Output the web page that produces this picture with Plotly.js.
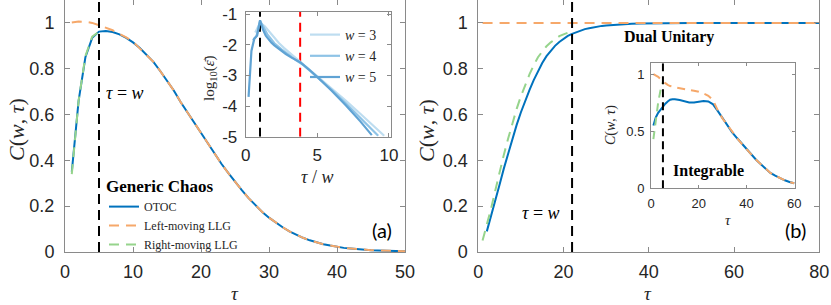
<!DOCTYPE html>
<html>
<head>
<meta charset="utf-8">
<script src="https://cdn.plot.ly/plotly-3.0.1.min.js"></script>
<style>html,body{margin:0;padding:0;background:#fff;}#chart{width:831px;height:305px;}</style>
</head>
<body>
<div id="chart"></div>
<script>
// ---------- DATA ----------
// Panel (a): Generic chaos
const tauA = [1,2,3,4,5,6,7,8,9,10,11,12,13,14,15,16,17,18,19,20,21,22,23,24,25,26,27,28,29,30,31,32,33,34,35,36,37,38,39,40,41,42,43,44,45,46,47,48,49,50];
const otocA = [0.35,0.66,0.85,0.935,0.962,0.965,0.96,0.95,0.935,0.915,0.89,0.86,0.83,0.79,0.75,0.705,0.655,0.61,0.565,0.515,0.47,0.425,0.385,0.345,0.305,0.27,0.235,0.205,0.175,0.15,0.128,0.108,0.09,0.075,0.062,0.051,0.042,0.034,0.028,0.022,0.018,0.015,0.012,0.01,0.008,0.007,0.006,0.005,0.004,0.003];
const leftLLGA = [1.002,1.006,1.005,1.0,0.99,0.98,0.968,0.952,0.937,0.918,0.89,0.86,0.83,0.79,0.75,0.705,0.655,0.61,0.565,0.515,0.47,0.425,0.385,0.345,0.305,0.27,0.235,0.205,0.175,0.15,0.128,0.108,0.09,0.075,0.062,0.051,0.042,0.034,0.028,0.022,0.018,0.015,0.012,0.01,0.008,0.007,0.006,0.005,0.004,0.003];
const tauRightLLGA = [1,2,3,4,5];
const rightLLGA = [0.34,0.66,0.855,0.94,0.962];
const markerA = 5;            // tau = w
const yFullA = [0, 1.1];

// Panel (a) inset: log10(eps) vs tau/w
const insW3x = [0.667,1.0,1.333,1.667,2.0,2.333,2.667,3.0,3.333,3.667,4.0,5.0,6.0,7.0,8.0,9.0,9.667];
const insW3y = [-1.6,-1.28,-1.4,-1.58,-1.78,-1.95,-2.1,-2.25,-2.37,-2.5,-2.63,-3.02,-3.42,-3.83,-4.25,-4.67,-4.97];
const insW4x = [0.5,0.75,1.0,1.25,1.5,1.75,2.0,2.5,3.0,3.5,4.0,5.0,6.0,7.0,8.0,9.0,9.25];
const insW4y = [-1.85,-1.72,-1.22,-1.45,-1.65,-1.8,-1.95,-2.15,-2.33,-2.5,-2.65,-3.05,-3.47,-3.92,-4.38,-4.85,-4.97];
const insW5x = [0.2,0.4,0.6,0.8,1.0,1.2,1.4,1.6,1.8,2.0,2.4,2.8,3.2,3.8,4.4,5.0,6.0,7.0,8.0,8.8];
const insW5y = [-3.7,-2.2,-1.8,-1.7,-1.2,-1.5,-1.7,-1.83,-1.93,-2.02,-2.17,-2.3,-2.42,-2.57,-2.8,-3.05,-3.5,-3.98,-4.5,-4.95];
const insBlackMark = 1;
const insRedMark = 3.8;
const insYFull = [-5, -0.92];
const insYTicks = [-5,-4,-3,-2,-1];
const insYTickText = ['-5','-4','-3','-2','-1'];

// Panel (b): Dual unitary
const tauOtocB = [2,3,4,5,6,7,8,9,10,11,12,13,14,15,16,17,18,19,20,21,22,23,24,25,26,27,28,29,30,32,34,36,38,40,45,50,55,60,65,70,75,80];
const otocB = [0.09,0.155,0.225,0.295,0.365,0.43,0.495,0.555,0.61,0.66,0.707,0.75,0.79,0.825,0.855,0.88,0.9,0.917,0.931,0.943,0.952,0.96,0.967,0.973,0.977,0.981,0.984,0.987,0.989,0.992,0.994,0.996,0.997,0.998,0.999,1.0,1.0,1.0,1.0,1.0,1.0,1.0];
const tauLeftLLGB = [1,80];
const leftLLGB = [1.0,1.0];
const tauRightLLGB = [1,2,3,4,5,6,7,8,9,10,11,12,13,14,15,16,17,18,19,20,21];
const rightLLGB = [0.05,0.115,0.19,0.27,0.35,0.425,0.495,0.565,0.625,0.68,0.73,0.775,0.815,0.85,0.875,0.898,0.915,0.93,0.942,0.95,0.957];
const markerB = 22;
const yFullB = [0, 1.1];

// Panel (b) inset: Integrable
const tauOtocI = [1,2,3,4,5,6,7,8,9,10,12,14,16,18,20,22,24,26,28,30,32,34,36,38,40,42,44,46,48,50,52,54,56,58,60];
const otocI = [0.55,0.62,0.66,0.69,0.715,0.74,0.76,0.775,0.78,0.78,0.772,0.76,0.752,0.752,0.76,0.765,0.76,0.735,0.675,0.61,0.55,0.49,0.44,0.39,0.34,0.295,0.25,0.21,0.17,0.135,0.11,0.088,0.07,0.055,0.044];
const tauLeftLLGI = [1,2,3,4,5,6,7,8,10,12,14,16,18,20,22,24,26,28,30,32,34,36,38,40,42,44,46,48,50,52,54,56,58,60];
const leftLLGI = [1.0,0.99,0.975,0.955,0.935,0.92,0.905,0.895,0.885,0.875,0.867,0.86,0.853,0.845,0.83,0.81,0.77,0.68,0.61,0.55,0.49,0.44,0.39,0.34,0.295,0.25,0.21,0.17,0.135,0.11,0.088,0.07,0.055,0.044];
const tauRightLLGI = [1,2,3,4,5];
const rightLLGI = [0.43,0.6,0.75,0.86,0.93];
const markerI = 5;
const yFullI = [0, 1.1];

// ---------- STYLE ----------
const W = 831, H = 305;
const px = v => v / W;
const py = v => 1 - v / H;
const BLUE = 'rgb(0,114,189)';
const ORANGE = 'rgb(246,168,106)';
const GREEN = 'rgb(150,212,140)';
const FRAME = '#8a8a8a';
const TXT = '#262626';
const SANS = 'Liberation Sans, Arial, sans-serif';
const SERIF = 'Liberation Serif, Times New Roman, serif';

function axisBase(domain, range, extra) {
  return Object.assign({
    domain: domain, range: range, showgrid: false, zeroline: false,
    showline: true, linecolor: FRAME, linewidth: 1, mirror: 'ticks',
    ticks: 'inside', ticklen: 5, tickcolor: FRAME, tickwidth: 1,
    tickfont: {family: SANS, size: 18, color: TXT}, fixedrange: true
  }, extra || {});
}

const vline = (xv, yr, xa, ya, color, w, dash) => ({
  x: [xv, xv], y: yr, xaxis: xa, yaxis: ya, mode: 'lines', showlegend: false,
  line: {color: color, width: w, dash: dash}, hoverinfo: 'skip'
});

const traces = [
  // panel a
  {x: tauA, y: otocA, xaxis: 'x', yaxis: 'y', mode: 'lines', name: 'OTOC', legend: 'legend',
   line: {color: BLUE, width: 2}},
  {x: tauA, y: leftLLGA, xaxis: 'x', yaxis: 'y', mode: 'lines', name: 'Left-moving LLG', legend: 'legend',
   line: {color: ORANGE, width: 2, dash: '10px,7px'}},
  {x: tauRightLLGA, y: rightLLGA, xaxis: 'x', yaxis: 'y', mode: 'lines', name: 'Right-moving LLG', legend: 'legend',
   line: {color: GREEN, width: 2, dash: '10px,7px'}},
  vline(markerA, yFullA, 'x', 'y', '#000', 2, '10px,6px'),
  // inset a
  vline(insBlackMark, insYFull, 'x2', 'y2', '#000', 2, '9px,6px'),
  vline(insRedMark, insYFull, 'x2', 'y2', 'rgb(255,0,0)', 2, '9px,6px'),
  {x: insW3x, y: insW3y, xaxis: 'x2', yaxis: 'y2', mode: 'lines', name: '<i>w</i> = 3', legend: 'legend2',
   line: {color: 'rgb(190,221,240)', width: 2.2}},
  {x: insW4x, y: insW4y, xaxis: 'x2', yaxis: 'y2', mode: 'lines', name: '<i>w</i> = 4', legend: 'legend2',
   line: {color: 'rgb(142,195,230)', width: 2.2}},
  {x: insW5x, y: insW5y, xaxis: 'x2', yaxis: 'y2', mode: 'lines', name: '<i>w</i> = 5', legend: 'legend2',
   line: {color: 'rgb(96,163,212)', width: 2.2}},
  // panel b
  {x: tauOtocB, y: otocB, xaxis: 'x3', yaxis: 'y3', mode: 'lines', showlegend: false,
   line: {color: BLUE, width: 2}},
  {x: tauLeftLLGB, y: leftLLGB, xaxis: 'x3', yaxis: 'y3', mode: 'lines', showlegend: false,
   line: {color: ORANGE, width: 2, dash: '10px,7px'}},
  {x: tauRightLLGB, y: rightLLGB, xaxis: 'x3', yaxis: 'y3', mode: 'lines', showlegend: false,
   line: {color: GREEN, width: 2, dash: '10px,7px'}},
  vline(markerB, yFullB, 'x3', 'y3', '#000', 2, '10px,6px'),
  // inset b
  {x: tauOtocI, y: otocI, xaxis: 'x4', yaxis: 'y4', mode: 'lines', showlegend: false,
   line: {color: BLUE, width: 2}},
  {x: tauLeftLLGI, y: leftLLGI, xaxis: 'x4', yaxis: 'y4', mode: 'lines', showlegend: false,
   line: {color: ORANGE, width: 2, dash: '8px,6px'}},
  {x: tauRightLLGI, y: rightLLGI, xaxis: 'x4', yaxis: 'y4', mode: 'lines', showlegend: false,
   line: {color: GREEN, width: 2, dash: '8px,6px'}},
  vline(markerI, yFullI, 'x4', 'y4', '#000', 2, '8px,5px')
];

const ann = (x, y, text, font, extra) => Object.assign({
  xref: 'paper', yref: 'paper', x: px(x), y: py(y), text: text, showarrow: false,
  xanchor: 'center', yanchor: 'middle', font: font
}, extra || {});

const layout = {
  width: W, height: H, margin: {l: 0, r: 0, t: 0, b: 0},
  paper_bgcolor: '#fff', plot_bgcolor: '#fff',
  xaxis: axisBase([px(65), px(405)], [0, 50], {anchor: 'y', tickvals: [0,10,20,30,40,50], ticklabelstandoff: 3}),
  yaxis: axisBase([py(252), 1], [0, 1.1], {anchor: 'x', tickvals: [0,0.2,0.4,0.6,0.8,1], ticklabelstandoff: 6}),
  xaxis2: axisBase([px(245.7), px(390.7)], [0, 10.12], {anchor: 'y2', tickvals: [0,5,10], ticklen: 4, ticklabelstandoff: 3,
    tickfont: {family: SANS, size: 17, color: TXT}}),
  yaxis2: axisBase([py(136.7), py(11.7)], [-5, -0.92], {anchor: 'x2', tickvals: insYTicks, ticktext: insYTickText, ticklen: 4, ticklabelstandoff: 4,
    tickfont: {family: SANS, size: 17, color: TXT}}),
  xaxis3: axisBase([px(478.3), px(819.3)], [0, 80], {anchor: 'y3', tickvals: [0,20,40,60,80], ticklabelstandoff: 3}),
  yaxis3: axisBase([py(252), 1], [0, 1.1], {anchor: 'x3', tickvals: [0,0.2,0.4,0.6,0.8,1], ticklabelstandoff: 6}),
  xaxis4: axisBase([px(651), px(795)], [0, 60.3], {anchor: 'y4', tickvals: [0,20,40,60], ticklen: 3,
    tickfont: {family: SANS, size: 13, color: TXT}, ticklabelstandoff: 3}),
  yaxis4: axisBase([py(188.3), py(63.3)], [0, 1.094], {anchor: 'x4', tickvals: [0,0.5,1], ticklen: 3,
    tickfont: {family: SANS, size: 13, color: TXT}, ticklabelstandoff: 3}),
  legend: {
    x: px(104), y: py(170), xanchor: 'left', yanchor: 'top', bgcolor: 'rgba(0,0,0,0)',
    font: {family: SERIF, size: 12, color: TXT},
    title: {text: '<b>Generic Chaos</b>', side: 'top', font: {family: SERIF, size: 17, color: '#000'}},
    tracegroupgap: 0, itemclick: false
  },
  legend2: {
    x: px(305), y: py(19), xanchor: 'left', yanchor: 'top', bgcolor: 'rgba(0,0,0,0)',
    font: {family: SERIF, size: 14, color: TXT}, itemclick: false
  },
  annotations: [
    ann(16, 130, '<i>C</i>(<i>w</i>, <i>τ</i>)', {family: SERIF, size: 22, color: TXT}, {textangle: -90}),
    ann(235, 305, '<i>τ</i>', {family: SERIF, size: 19, color: TXT}, {yanchor: 'bottom', borderpad: 0}),
    ann(426, 130, '<i>C</i>(<i>w</i>, <i>τ</i>)', {family: SERIF, size: 22, color: TXT}, {textangle: -90}),
    ann(648, 305, '<i>τ</i>', {family: SERIF, size: 19, color: TXT}, {yanchor: 'bottom', borderpad: 0}),
    ann(125, 93, '<i>τ</i> = <i>w</i>', {family: SERIF, size: 18, color: '#000'}),
    ann(541, 213, '<i>τ</i> = <i>w</i>', {family: SERIF, size: 18, color: '#000'}),
    ann(669, 37, '<b>Dual Unitary</b>', {family: SERIF, size: 16, color: '#000'}),
    ann(708, 171, '<b>Integrable</b>', {family: SERIF, size: 16, color: '#000'}),
    ann(382, 230, '(a)', {family: 'Lato, Open Sans, sans-serif', size: 20, color: '#000'}),
    ann(795, 230, '(b)', {family: 'Lato, Open Sans, sans-serif', size: 20, color: '#000'}),
    ann(210, 78, 'log<sub>10</sub>(<i>ε̄</i>)', {family: SERIF, size: 15, color: TXT}, {textangle: -90}),
    ann(317, 177, '<i>τ</i> / <i>w</i>', {family: SERIF, size: 18, color: TXT}),
    ann(611, 125, '<i>C</i>(<i>w</i>, <i>τ</i>)', {family: SERIF, size: 14, color: TXT}, {textangle: -90}),
    ann(728, 220, '<i>τ</i>', {family: SERIF, size: 15, color: TXT})
  ]
};

Plotly.newPlot('chart', traces, layout, {staticPlot: true, displayModeBar: false});
</script>
</body>
</html>
